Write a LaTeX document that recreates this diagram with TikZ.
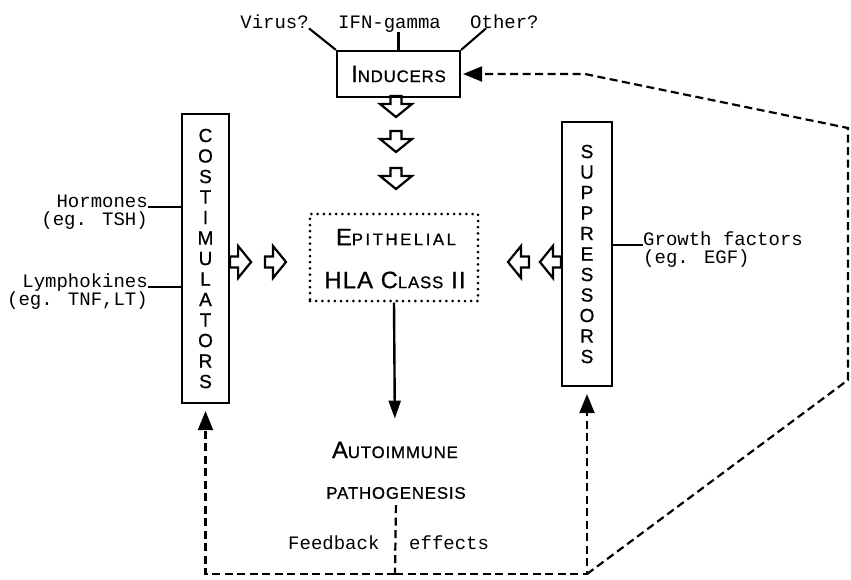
\documentclass[tikz,border=0pt]{standalone}
\usepackage{fontspec}
\setmainfont{Liberation Sans}[LetterSpace=5,FakeBold=0.8]
\newfontfamily\monofam{Liberation Mono}
\newfontfamily\widefam{Liberation Sans}[LetterSpace=15,FakeBold=0.8]
\usetikzlibrary{arrows.meta}
\newcommand\BigC[1]{{\fontsize{23.7pt}{24pt}\selectfont #1}}
\newcommand\SmC[1]{{\fontsize{16.8pt}{17pt}\selectfont #1}}
\begin{document}
\begin{tikzpicture}[x=1pt,y=-1pt,
  lbl/.style={font=\monofam\fontsize{19pt}{20pt}\selectfont, inner sep=0pt},
  capslbl/.style={inner sep=0pt},
  box/.style={draw, line width=2.2pt, inner sep=0pt},
  vert/.style={box, align=center, font=\fontsize{19pt}{20.5pt}\selectfont},
  dotbox/.style={draw, line width=3pt, line cap=round, dash pattern=on 0pt off 6.2pt, inner sep=0pt},
  wire/.style={line width=2.1pt},
  fb/.style={line width=2.2pt, dash pattern=on 8pt off 4.5pt},
  tipd/.style={-{Triangle[length=19pt,width=15pt]}},
  tips/.style={-{Triangle[length=18pt,width=12pt]}},
  hollow/.pic={\draw[line width=2.2pt, line join=miter]
     (0,-5.5) -- (8,-5.5) -- (8,-16) -- (21,0) -- (8,16) -- (8,5.5) -- (0,5.5) -- cycle;}
]
\useasboundingbox (0,0) rectangle (851,579);

% boxes
\node[box, minimum width=123pt, minimum height=46pt] (ind) at (398.5,74) {\BigC{I}\SmC{NDUCERS}};
\node[vert, minimum width=47pt, minimum height=289pt] (cos) at (205.5,258.5)
  {C\\O\\S\\T\\I\\M\\U\\L\\A\\T\\O\\R\\S};
\node[vert, minimum width=50pt, minimum height=264pt] (supp) at (587,254)
  {S\\U\\P\\P\\R\\E\\S\\S\\O\\R\\S};
\node[dotbox, minimum width=168pt, minimum height=87pt] (epi) at (394,257.5) {};
\node[capslbl, font=\widefam] (epi1) at (396,237) {\BigC{E}\SmC{PITHELIAL}};
\node[capslbl] (epi2) at (395,280) {\BigC{HLA C}\SmC{LASS}\BigC{ II}};
\node[capslbl] (auto) at (395,450) {\BigC{A}\SmC{UTOIMMUNE}};
\node[capslbl] (patho) at (396,493) {\SmC{PATHOGENESIS}};

% labels
\node[lbl, anchor=base east] (virus) at (309,28) {Virus?};
\node[lbl, anchor=base west] (ifn) at (338,28) {IFN-gamma};
\node[lbl, anchor=base west] (other) at (470,28) {Other?};
\node[lbl, anchor=base east] (horm) at (148,207) {Hormones};
\node[lbl, anchor=base east] (hormeg) at (148,225.5) {(eg. TSH)};
\node[lbl, anchor=base east] (lym) at (148,287) {Lymphokines};
\node[lbl, anchor=base east] (lymeg) at (148,305.5) {(eg. TNF,LT)};
\node[lbl, anchor=base west] (grow) at (643,245) {Growth factors};
\node[lbl, anchor=base west] (groweg) at (643,263.5) {(eg. EGF)};
\node[lbl, anchor=base west] (feed) at (288,549) {Feedback};
\node[lbl, anchor=base west] (eff) at (409,549) {effects};

% input lines
\draw[wire] (virus.south east) -- (ind.north west);
\draw[wire] (ind.north) -- (ind.north |- ifn.south);
\draw[wire] (ind.north east) -- ([xshift=16pt]other.south west);
\draw[wire] (horm.base east) -- (horm.base east -| cos.west);
\draw[wire] (lym.base east) -- (lym.base east -| cos.west);
\draw[wire] (grow.base west -| supp.east) -- (grow.base west);

% hollow arrows
\pic[rotate=-90] at (396,96) {hollow};
\pic[rotate=-90] at (396,131) {hollow};
\pic[rotate=-90] at (396,168) {hollow};
\pic at (cos.east |- 0,262) {hollow};
\pic at (265,262) {hollow};
\pic[rotate=180] at (supp.west |- 0,262) {hollow};
\pic[rotate=180] at (529,262) {hollow};

% main arrow
\draw[line width=2.4pt, tips, shorten >=23pt] (epi.south) -- (auto.north);

% feedback
\coordinate (fbc) at (395,574);
\coordinate (bl) at (205.5,574);
\coordinate (brc) at (587,574);
\coordinate (rb) at (848,380);
\coordinate (rt) at (848,128);
\coordinate (tk) at (585,74);
\draw[fb, shorten <=6pt] (patho.south) -- (fbc);
\draw[fb, tipd, shorten >=7pt] (fbc) -- (bl) -- (cos.south);
\draw[fb, tipd, shorten >=7pt] (fbc) -- (brc) -- (supp.south);
\draw[fb, tipd, shorten >=2pt] (brc) -- (rb) -- (rt) -- (tk) -- (ind.east);
\end{tikzpicture}
\end{document}
